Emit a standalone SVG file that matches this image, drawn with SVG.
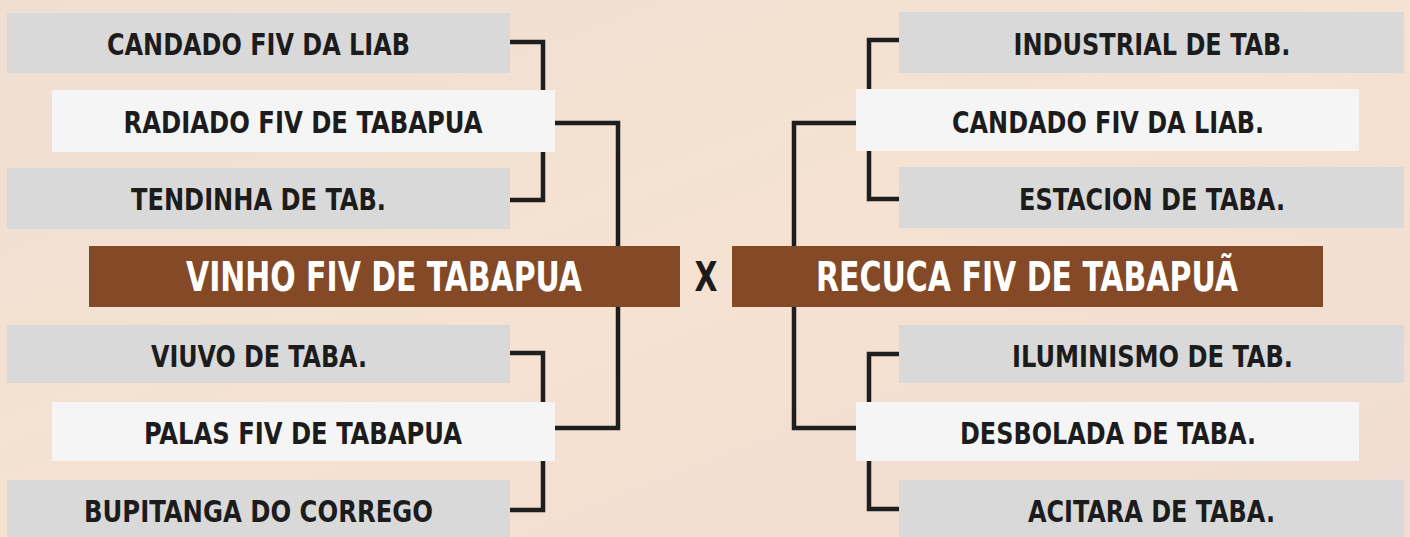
<svg xmlns="http://www.w3.org/2000/svg" width="1410" height="537" viewBox="0 0 1410 537">
  <defs>
    <linearGradient id="bg" x1="0" y1="0" x2="1" y2="1">
      <stop offset="0" stop-color="#efdfd3"/>
      <stop offset="0.5" stop-color="#f5e2d1"/>
      <stop offset="1" stop-color="#f0dcd2"/>
    </linearGradient>
  </defs>
  <style>
    .gray { fill: #d9d9d9; }
    .white { fill: #f5f5f5; }
    .brown { fill: #844a27; }
    .lbl { font-family: "DejaVu Sans Condensed", "DejaVu Sans", sans-serif; font-weight: bold; font-size: 31px; fill: #1c1c1c; text-anchor: middle; }
    .title { font-family: "DejaVu Sans Condensed", "DejaVu Sans", sans-serif; font-weight: bold; font-size: 40px; fill: #ffffff; text-anchor: middle; }
    .vs { font-family: "DejaVu Sans Condensed", "DejaVu Sans", sans-serif; font-weight: bold; font-size: 40px; fill: #1c1c1c; text-anchor: middle; }
    .conn { fill: none; stroke: #1e1e1e; stroke-width: 4.5; stroke-linejoin: miter; }
  </style>
  <rect x="0" y="0" width="1410" height="537" fill="url(#bg)"/>

  <g id="connectors">
    <path class="conn" d="M510,42 H543 V200 H510"/>
    <path class="conn" d="M555,123 H618 V428 H555"/>
    <path class="conn" d="M510,353 H543 V510 H510"/>
    <path class="conn" d="M899,40 H869 V199 H899"/>
    <path class="conn" d="M856,123 H794 V428 H856"/>
    <path class="conn" d="M899,354 H869 V509 H899"/>
  </g>

  <g id="n-candado-left">
    <rect class="gray" x="7" y="13" width="503" height="60"/>
    <text class="lbl" x="258.5" y="55" textLength="303" lengthAdjust="spacingAndGlyphs">CANDADO FIV DA LIAB</text>
  </g>
  <g id="n-radiado">
    <rect class="white" x="52" y="90" width="503" height="62"/>
    <text class="lbl" x="303" y="133" textLength="359" lengthAdjust="spacingAndGlyphs">RADIADO FIV DE TABAPUA</text>
  </g>
  <g id="n-tendinha">
    <rect class="gray" x="7" y="168" width="503" height="61"/>
    <text class="lbl" x="258.5" y="210" textLength="255" lengthAdjust="spacingAndGlyphs">TENDINHA DE TAB.</text>
  </g>
  <g id="n-vinho">
    <rect class="brown" x="89" y="246" width="591" height="61"/>
    <text class="title" x="384" y="291" textLength="396" lengthAdjust="spacingAndGlyphs">VINHO FIV DE TABAPUA</text>
  </g>
  <g id="n-x">
    <text class="vs" x="706" y="291" textLength="23" lengthAdjust="spacingAndGlyphs">X</text>
  </g>
  <g id="n-recuca">
    <rect class="brown" x="732" y="246" width="591" height="61"/>
    <text class="title" x="1027" y="291" textLength="422" lengthAdjust="spacingAndGlyphs">RECUCA FIV DE TABAPUÃ</text>
  </g>
  <g id="n-viuvo">
    <rect class="gray" x="7" y="325" width="503" height="58"/>
    <text class="lbl" x="259" y="367" textLength="216" lengthAdjust="spacingAndGlyphs">VIUVO DE TABA.</text>
  </g>
  <g id="n-palas">
    <rect class="white" x="52" y="402" width="503" height="59"/>
    <text class="lbl" x="303" y="444" textLength="318" lengthAdjust="spacingAndGlyphs">PALAS FIV DE TABAPUA</text>
  </g>
  <g id="n-bupitanga">
    <rect class="gray" x="7" y="480" width="503" height="60"/>
    <text class="lbl" x="258.5" y="522" textLength="349" lengthAdjust="spacingAndGlyphs">BUPITANGA DO CORREGO</text>
  </g>

  <g id="n-industrial">
    <rect class="gray" x="899" y="12" width="505" height="61"/>
    <text class="lbl" x="1152" y="55" textLength="277" lengthAdjust="spacingAndGlyphs">INDUSTRIAL DE TAB.</text>
  </g>
  <g id="n-candado-right">
    <rect class="white" x="856" y="89" width="503" height="62"/>
    <text class="lbl" x="1108" y="133" textLength="312" lengthAdjust="spacingAndGlyphs">CANDADO FIV DA LIAB.</text>
  </g>
  <g id="n-estacion">
    <rect class="gray" x="899" y="167" width="505" height="61"/>
    <text class="lbl" x="1152" y="210" textLength="266" lengthAdjust="spacingAndGlyphs">ESTACION DE TABA.</text>
  </g>
  <g id="n-iluminismo">
    <rect class="gray" x="899" y="325" width="505" height="58"/>
    <text class="lbl" x="1152.5" y="367" textLength="281" lengthAdjust="spacingAndGlyphs">ILUMINISMO DE TAB.</text>
  </g>
  <g id="n-desbolada">
    <rect class="white" x="856" y="402" width="503" height="59"/>
    <text class="lbl" x="1108" y="444" textLength="296" lengthAdjust="spacingAndGlyphs">DESBOLADA DE TABA.</text>
  </g>
  <g id="n-acitara">
    <rect class="gray" x="899" y="480" width="505" height="60"/>
    <text class="lbl" x="1151.5" y="522" textLength="247" lengthAdjust="spacingAndGlyphs">ACITARA DE TABA.</text>
  </g>
</svg>
